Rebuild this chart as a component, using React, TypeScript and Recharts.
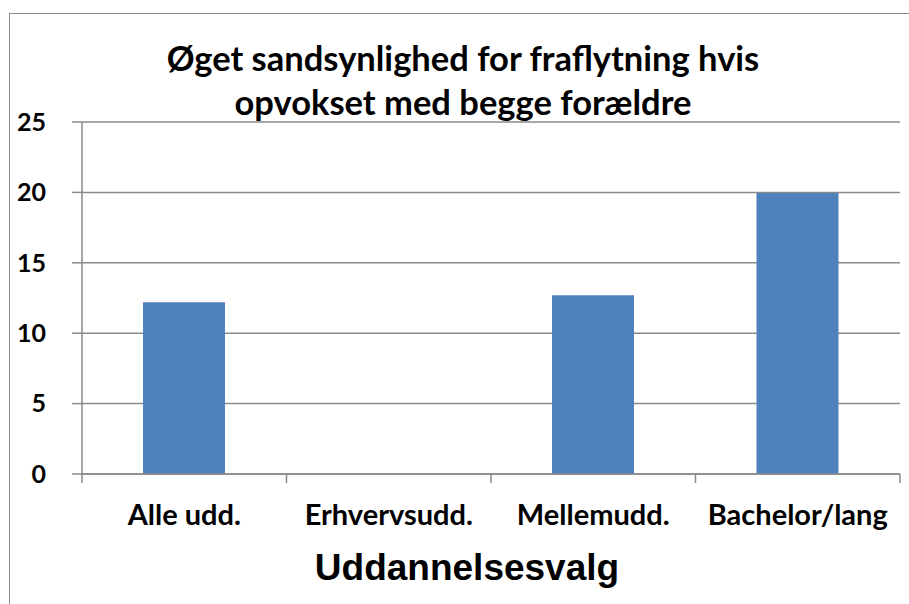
import React from "react";
import { BarChart, Bar, XAxis, YAxis, CartesianGrid } from "recharts";

const categories = ["Alle udd.", "Erhvervsudd.", "Mellemudd.", "Bachelor/lang"];
const values = [12.2, 0, 12.7, 19.95];
const yTicks = [0, 5, 10, 15, 20, 25];
const titleLines = ["Øget sandsynlighed for fraflytning hvis", "opvokset med begge forældre"];
const xAxisTitle = "Uddannelsesvalg";

const data = categories.map((name, i) => ({ name, value: values[i] }));

const GRID = "#8a8a8a";
const LABEL_FONT = "Lato, 'Open Sans', sans-serif";

const CatTick = (props: any) => {
  const { x, y, payload, index, visibleTicksCount } = props;
  const off = payload && payload.offset ? payload.offset : 102;
  const axisY = y - 10;
  return (
    <g>
      <line x1={x - off} x2={x - off} y1={axisY} y2={axisY + 9} stroke={GRID} strokeWidth={1.5} />
      {index === (visibleTicksCount ?? categories.length) - 1 && (
        <line x1={x + off} x2={x + off} y1={axisY} y2={axisY + 9} stroke={GRID} strokeWidth={1.5} />
      )}
      <text x={x} y={axisY + 51} textAnchor="middle" fontFamily={LABEL_FONT} fontWeight={700} fontSize={29} fill="#000">
        {payload.value}
      </text>
    </g>
  );
};

export default function App() {
  return (
    <div style={{ position: "absolute", left: 0, top: 0, width: 909, height: 604, background: "#fff", overflow: "hidden" }}>
      <div style={{ position: "absolute", left: 9, top: 13, width: 1000, height: 1000, borderLeft: "1.5px solid #8a8a8a", borderTop: "1.5px solid #8a8a8a" }} />
      <BarChart width={909} height={604} data={data} margin={{ top: 122, right: 9, bottom: 0, left: 0 }}>
        <CartesianGrid vertical={false} stroke={GRID} strokeWidth={1.5} />
        <XAxis
          dataKey="name"
          axisLine={{ stroke: GRID, strokeWidth: 1.5 }}
          tickLine={false}
          tickSize={0}
          tickMargin={10}
          interval={0}
          tick={<CatTick />}
          height={130}
        />
        <YAxis
          domain={[0, 25]}
          ticks={yTicks}
          width={82}
          axisLine={{ stroke: GRID, strokeWidth: 1.5 }}
          tickLine={{ stroke: GRID, strokeWidth: 1.5 }}
          tickSize={10}
          tickMargin={26}
          tick={{ fontFamily: LABEL_FONT, fontWeight: 700, fontSize: 25, fill: "#000" }}
          interval={0}
        />
        <Bar dataKey="value" fill="#4F81BD" barSize={82} isAnimationActive={false} />
      </BarChart>
      <div style={{ position: "absolute", left: 0, width: 926, top: 36, textAlign: "center", fontFamily: LABEL_FONT, fontWeight: 700, fontSize: 34.5, lineHeight: "44px", color: "#000" }}>
        {titleLines.map((l) => (
          <div key={l}>{l}</div>
        ))}
      </div>
      <div style={{ position: "absolute", left: 0, width: 934, top: 546, textAlign: "center", fontFamily: "'Liberation Sans', Arial, sans-serif", fontWeight: 700, fontSize: 37, lineHeight: "44px", color: "#000" }}>
        {xAxisTitle}
      </div>
    </div>
  );
}
